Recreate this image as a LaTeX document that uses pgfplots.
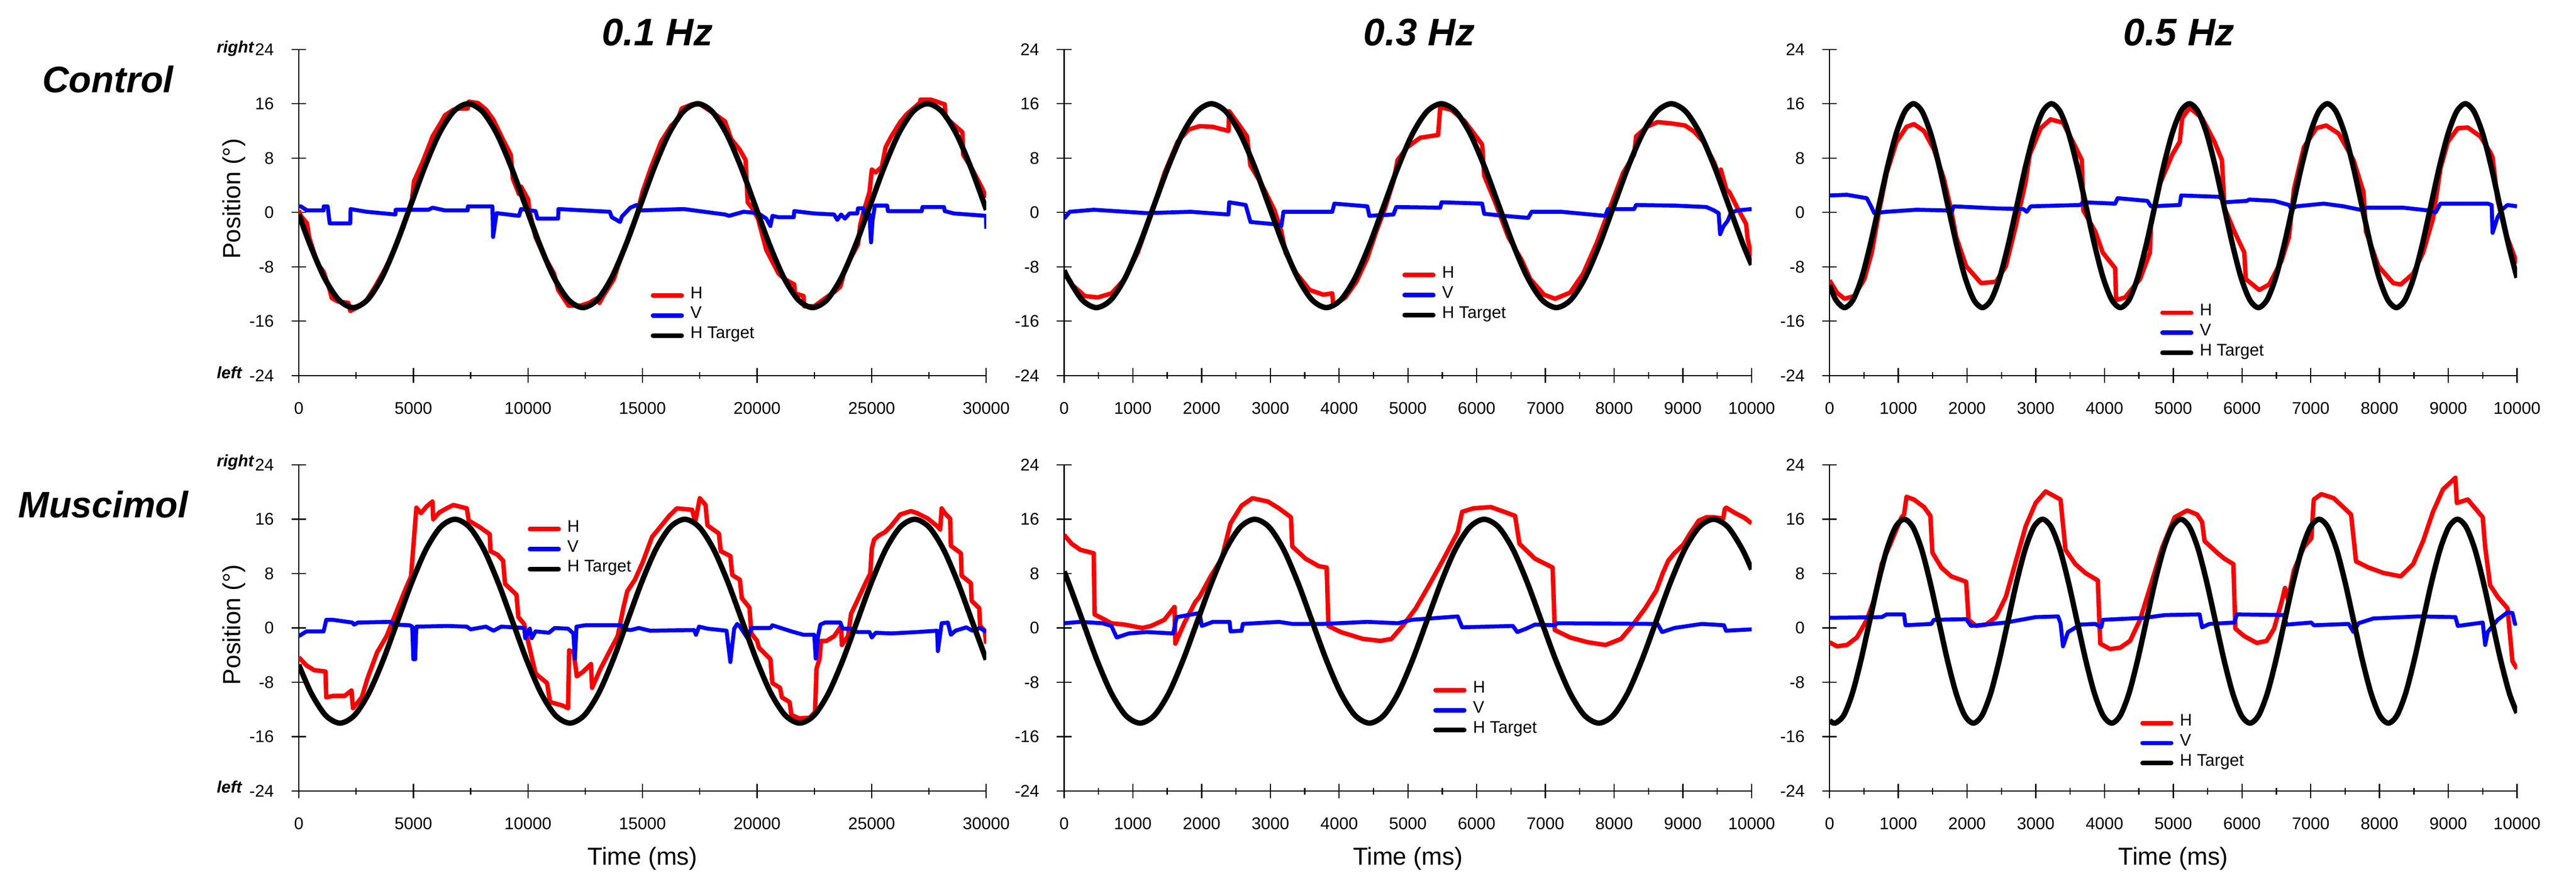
\documentclass[border=0pt]{standalone}
\usepackage{fontspec}
\setmainfont{Liberation Sans}
\usepackage{pgfplots}
\pgfplotsset{compat=1.18}

\pgfplotsset{
  panel/.style={
    scale only axis, width=223.65pt, height=106.1pt,
    xmin=0, ymin=-24, ymax=24, ytick={-24,-16,...,24},
    axis x line*=bottom, axis y line*=left,
    tick align=center, major tick length=4.8pt, minor tick length=2.2pt,
    minor x tick num=1,
    every tick/.style={black, line width=0.4pt},
    axis line style={line width=0.4pt},
    tick label style={font=\fontsize{5.5}{6}\selectfont, inner sep=0pt},
    xticklabel shift=6.0pt, yticklabel shift=5.5pt,
    /pgf/number format/assume math mode=true,
    /pgf/number format/1000 sep={},
    scaled x ticks=false,
    label style={font=\fontsize{8}{9}\selectfont},
    legend style={draw=none, fill=none, inner sep=0pt, outer sep=0pt,
      anchor=north west, font=\fontsize{5.5}{6}\selectfont, row sep=0pt, column sep=2.1pt,
      nodes={inner sep=0pt, text height=4.2pt, text depth=2.3pt}},
    legend cell align=left,
    legend image code/.code={\draw[##1, line width=1.5pt, line cap=round] (0pt,0pt) -- (9.3pt,0pt);},
  },
  hline/.style={red, line width=1.45pt, line join=round},
  vline/.style={blue, line width=1.3pt, line join=round},
  tline/.style={black, line width=1.75pt, smooth},
}

\begin{document}
\begin{tikzpicture}
\path[use as bounding box] (0,0) rectangle (838.05pt,-284.25pt);

% ---------- Control, 0.1 Hz
\begin{axis}[panel, at={(97.2pt,-16.05pt)}, anchor=north west,
  xmax=30000, xtick={0,5000,...,30000},
  ylabel={Position (°)}, ylabel style={at={(axis description cs:-0.0939,0.5416)}, anchor=center},
  legend style={at={(0.512,0.276)}}]
\addplot[hline] coordinates {(0,0.3) (90,-0.5) (360,-1.6) (450,-3.6) (810,-7.5) (1080,-8.7) (1350,-11.4) (1440,-12.6) (1710,-13.1) (2160,-13.3) (2250,-14.5) (2600,-13.9) (2960,-12.9) (3320,-11) (3770,-8.3) (4220,-5.1) (4580,-2) (4940,1.9) (5030,4.6) (5390,7.3) (5750,10.4) (5840,11.2) (6200,13.2) (6380,14.3) (6740,15.1) (7010,15.3) (7370,15.3) (7420,16.3) (7820,16.1) (8180,15.1) (8500,13.6) (8900,10.8) (9250,8.5) (9340,5.0) (9610,2.7) (9700,3.8) (10010,1.9) (10060,0.3) (10330,-3.6) (10690,-6.3) (11140,-9.0) (11320,-11.4) (11770,-13.7) (12310,-13.7) (12670,-13.3) (13030,-12.6) (13120,-13.3) (13300,-12.2) (13750,-9.8) (13930,-7.9) (14200,-5.5) (14470,-2.8) (14740,-0.5) (15000,3.0) (15360,6.5) (15810,10.4) (16260,12.8) (16530,13.6) (16710,15.3) (17160,15.9) (17520,15.9) (18060,14.7) (18600,13.4) (18870,10.8) (19230,9.3) (19500,7.7) (19590,1.5) (19770,0.7) (20040,-0.9) (20400,-5.5) (20940,-9.0) (21200,-9.8) (21622,-10.6) (21650,-11.9) (22025,-12.3) (22059,-13.8) (22494,-13.8) (22900,-12.8) (23365,-11.7) (23633,-10.9) (23834,-8.4) (24102,-6.6) (24404,-4.7) (24504,-1.8) (24638,0) (24906,3.0) (25007,6.3) (25174,5.9) (25442,6.7) (25610,9.6) (25844,11.1) (26247,13.3) (26515,14.4) (27118,16.2) (27130,16.6) (27587,16.6) (28190,15.9) (28224,14.0) (28525,13.1) (28961,11.8) (28994,8.5) (29397,6.3) (29799,3.7) (30000,2.2)};
\addplot[vline] coordinates {(0,0.9) (90,0.9) (360,0.3) (1080,0.3) (1090,0.9) (1260,0.9) (1350,-1.6) (2250,-1.6) (2260,0.5) (2960,0.1) (4220,-0.3) (4230,0.4) (5660,0.4) (5840,0.7) (6380,0.3) (7370,0.3) (7380,0.9) (8450,0.9) (8480,-3.6) (8630,-0.1) (9610,-0.5) (9700,0.5) (10330,0.2) (10420,-0.9) (11320,-0.9) (11330,0.5) (13570,0.1) (13660,-0.7) (14020,-1.4) (14100,-0.6) (14470,0.7) (14740,1.1) (14920,0.3) (16800,0.5) (18600,-0.3) (18780,-0.5) (19410,0.1) (20040,-0.1) (20400,-0.9) (20580,-2.0) (20670,-0.5) (20940,-0.7) (21600,-0.7) (21622,0.2) (22494,-0.15) (23365,-0.3) (23499,-1.1) (23667,-0.3) (23834,-0.9) (24035,-0.15) (24370,-0.15) (24404,0.6) (24638,0.6) (24672,-0.3) (24906,-0.3) (24973,-4.4) (25040,-1.1) (25141,1.0) (25677,1.0) (25710,0.2) (27185,0.2) (27218,0.8) (28157,0.8) (28190,0.2) (28592,-0.15) (29990,-0.5) (30000,-2.4)};
\addplot[tline] coordinates {(0,-0.26) (492,-4.74) (1118,-9.61) (1745,-12.86) (2372,-14) (2998,-12.86) (3625,-9.61) (4251,-4.74) (4878,1) (5505,6.74) (6131,11.61) (6758,14.86) (7384,16) (8011,14.86) (8638,11.61) (9264,6.74) (9891,1) (10517,-4.74) (11144,-9.61) (11771,-12.86) (12397,-14) (13024,-12.86) (13650,-9.61) (14277,-4.74) (14904,1) (15530,6.74) (16157,11.61) (16783,14.86) (17410,16) (18037,14.86) (18663,11.61) (19290,6.74) (19916,1) (20543,-4.74) (21170,-9.61) (21796,-12.86) (22423,-14) (23049,-12.86) (23676,-9.61) (24303,-4.74) (24929,1) (25556,6.74) (26182,11.61) (26809,14.86) (27436,16) (28062,14.86) (28689,11.61) (29315,6.74) (29942,1) (30000,0.45)};
\legend{H, V, H Target}
\end{axis}

% ---------- Control, 0.3 Hz
\begin{axis}[panel, at={(346.2pt,-16.05pt)}, anchor=north west,
  xmax=10000, xtick={0,1000,...,10000},
  legend style={at={(0.492,0.3385)}}]
\addplot[hline] coordinates {(0,-8.6) (110,-10.6) (300,-12.3) (490,-12.5) (690,-11.9) (880,-9.8) (1070,-5.9) (1260,-0.5) (1460,5.8) (1650,10.4) (1810,12.2) (1970,12.7) (2160,12.6) (2390,12.0) (2400,14.9) (2550,12.8) (2660,11.2) (2710,6.9) (2870,4.2) (3060,0.3) (3160,-2.8) (3220,-5.9) (3380,-9.0) (3570,-11.4) (3770,-12.1) (3900,-11.9) (3915,-13.7) (4090,-12.5) (4250,-10.2) (4410,-6.7) (4540,-2.8) (4670,0.7) (4790,4.6) (4850,7.7) (4990,9.6) (5180,11.0) (5440,11.4) (5470,15.5) (5630,15.1) (5820,13.5) (6080,10.0) (6110,5.4) (6270,1.5) (6460,-3.6) (6660,-7.1) (6780,-9.8) (6980,-12.1) (7140,-12.7) (7360,-11.8) (7550,-9.0) (7750,-4.4) (7940,0.7) (8130,5.8) (8290,8.5) (8320,11.2) (8476,12.6) (8631,13.3) (8831,13.1) (9031,12.8) (9164,11.9) (9298,10.4) (9453,7.4) (9520,5.6) (9553,6.3) (9631,3.4) (9676,3.0) (9787,0.8) (9920,-1.7) (9942,-3.9) (10000,-6.5)};
\addplot[vline] coordinates {(0,-0.9) (80,0.1) (430,0.4) (1200,-0.1) (1840,0.1) (2390,-0.3) (2400,1.5) (2640,1.1) (2710,-1.4) (3130,-1.8) (3160,-2.0) (3190,0.1) (3900,0.1) (3930,1.3) (4410,0.9) (4440,-0.5) (4790,-0.3) (4830,0.8) (5470,0.7) (5490,1.5) (6080,1.3) (6110,-0.2) (6400,-0.5) (6750,-0.8) (6800,0.1) (7230,0.1) (7870,-0.5) (7910,0.5) (8290,0.5) (8320,1.1) (8900,1.0) (9342,0.8) (9453,0.3) (9520,-0.1) (9542,-3.2) (9587,-2.1) (9653,-1.2) (9698,-0.1) (9787,0.3) (10000,0.5)};
\addplot[tline] coordinates {(0,-8.5) (52,-9.61) (261,-12.86) (470,-14) (679,-12.86) (888,-9.61) (1097,-4.74) (1306,1) (1515,6.74) (1724,11.61) (1933,14.86) (2142,16) (2351,14.86) (2560,11.61) (2769,6.74) (2978,1) (3187,-4.74) (3397,-9.61) (3606,-12.86) (3815,-14) (4024,-12.86) (4233,-9.61) (4442,-4.74) (4651,1) (4860,6.74) (5069,11.61) (5278,14.86) (5487,16) (5696,14.86) (5905,11.61) (6114,6.74) (6323,1) (6532,-4.74) (6742,-9.61) (6951,-12.86) (7160,-14) (7369,-12.86) (7578,-9.61) (7787,-4.74) (7996,1) (8205,6.74) (8414,11.61) (8623,14.86) (8832,16) (9041,14.86) (9250,11.61) (9459,6.74) (9668,1) (9877,-4.74) (10000,-7.7)};
\legend{H, V, H Target}
\end{axis}

% ---------- Control, 0.5 Hz
\begin{axis}[panel, at={(595.2pt,-16.05pt)}, anchor=north west,
  xmax=10000, xtick={0,1000,...,10000},
  legend style={at={(0.481,0.223)}}]
\addplot[hline] coordinates {(0,-10.0) (108,-11.8) (217,-12.7) (361,-12.3) (506,-9.8) (614,-5.9) (723,0.3) (831,5.8) (975,10.4) (1120,12.6) (1228,13.0) (1373,12.0) (1517,9.3) (1662,5.0) (1770,0.3) (1842,-3.6) (1987,-7.9) (2204,-10.4) (2420,-10.2) (2565,-7.9) (2709,-2.0) (2854,4.6) (2912,8.5) (3071,12.4) (3215,13.7) (3396,13.2) (3540,10.4) (3670,7.7) (3692,0.3) (3865,-2.8) (3974,-5.9) (4154,-8.2) (4169,-12.9) (4299,-12.5) (4516,-9.8) (4660,-5.9) (4675,-2.0) (4805,4.2) (4985,8.5) (5094,10.4) (5130,13.9) (5238,15.4) (5419,13.9) (5599,10.4) (5708,7.7) (5744,0.7) (5888,-2.8) (6033,-5.9) (6055,-9.8) (6250,-11.4) (6394,-10.6) (6575,-7.1) (6683,-3.6) (6755,3.4) (6900,9.6) (7081,12.4) (7225,12.8) (7406,11.6) (7622,7.7) (7767,3.0) (7803,-2.8) (7984,-7.9) (8200,-10.4) (8309,-10.6) (8489,-9.0) (8634,-5.9) (8778,-0.9) (8887,6.5) (8995,10.4) (9139,12.4) (9284,12.5) (9465,11.2) (9609,8.9) (9645,8.1) (9717,1.9) (9826,-2.8) (10000,-7.5)};
\addplot[vline] coordinates {(0,2.5) (253,2.6) (542,2.1) (614,0.7) (650,-0.1) (831,0.1) (1264,0.4) (1698,0.3) (1770,-0.1) (1806,0.9) (2420,0.6) (2818,0.5) (2868,0.1) (2926,0.9) (3649,1.1) (3685,1.5) (4154,1.3) (4190,2.1) (4624,1.7) (4675,0.9) (5094,1.1) (5115,2.5) (5672,2.3) (5744,1.5) (6069,1.7) (6105,1.9) (6466,1.7) (6683,1.1) (6719,0.5) (6792,0.9) (7189,1.3) (7478,0.9) (7767,0.3) (7803,0.7) (8345,0.7) (8706,0.3) (8815,0.0) (8887,1.3) (9573,1.3) (9631,1.1) (9645,-3.0) (9717,-0.7) (9790,0.5) (9862,1.1) (10000,0.9)};
\addplot[tline] coordinates {(0,-10.7) (92,-12.86) (217,-14) (342,-12.86) (468,-9.61) (593,-4.74) (719,1) (844,6.74) (970,11.61) (1095,14.86) (1221,16) (1346,14.86) (1471,11.61) (1597,6.74) (1722,1) (1848,-4.74) (1973,-9.61) (2099,-12.86) (2224,-14) (2350,-12.86) (2475,-9.61) (2600,-4.74) (2726,1) (2851,6.74) (2977,11.61) (3102,14.86) (3228,16) (3353,14.86) (3478,11.61) (3604,6.74) (3729,1) (3855,-4.74) (3980,-9.61) (4106,-12.86) (4231,-14) (4357,-12.86) (4482,-9.61) (4607,-4.74) (4733,1) (4858,6.74) (4984,11.61) (5109,14.86) (5235,16) (5360,14.86) (5486,11.61) (5611,6.74) (5736,1) (5862,-4.74) (5987,-9.61) (6113,-12.86) (6238,-14) (6364,-12.86) (6489,-9.61) (6614,-4.74) (6740,1) (6865,6.74) (6991,11.61) (7116,14.86) (7242,16) (7367,14.86) (7493,11.61) (7618,6.74) (7743,1) (7869,-4.74) (7994,-9.61) (8120,-12.86) (8245,-14) (8371,-12.86) (8496,-9.61) (8622,-4.74) (8747,1) (8872,6.74) (8998,11.61) (9123,14.86) (9249,16) (9374,14.86) (9500,11.61) (9625,6.74) (9750,1) (9876,-4.74) (10000,-9.6)};
\legend{H, V, H Target}
\end{axis}

% ---------- Muscimol, 0.1 Hz
\begin{axis}[panel, at={(97.2pt,-151.2pt)}, anchor=north west,
  xmax=30000, xtick={0,5000,...,30000},
  ylabel={Position (°)}, ylabel style={at={(axis description cs:-0.0939,0.51)}, anchor=center},
  xlabel={Time (ms)}, xlabel style={at={(axis description cs:0.5,-0.2068)}, anchor=center},
  legend style={at={(0.333,0.834)}}]
\addplot[hline] coordinates {(0,-4.3) (333,-5.5) (667,-6.2) (1167,-6.4) (1200,-10.2) (1500,-10.0) (2000,-10.0) (2300,-9.2) (2367,-11.8) (2750,-10.2) (3000,-7.4) (3417,-3.6) (3833,-1.2) (4250,2.3) (4667,5.8) (4900,7.6) (5000,12.0) (5133,17.7) (5333,16.9) (5583,17.9) (5833,18.6) (5867,16.0) (6133,17.0) (6500,17.7) (6750,18.1) (7333,17.6) (7417,15.8) (7917,14.8) (8333,13.8) (8367,11.3) (8667,10.8) (8917,9.9) (9000,6.5) (9500,4.9) (9583,1.6) (9833,0.6) (10000,-1.9) (10167,-4.3) (10333,-6.7) (10833,-8.1) (10967,-10.9) (11500,-11.4) (11750,-11.8) (11800,-3.3) (12000,-3.6) (12133,-7.1) (12417,-6.4) (12750,-5.3) (12800,-8.8) (13167,-6.0) (13583,-3.3) (13917,-1.2) (14167,3.0) (14333,5.4) (14667,7.1) (15000,9.6) (15417,13.4) (15833,15.1) (16167,16.5) (16500,17.6) (17167,17.4) (17300,15.6) (17500,19.1) (17750,18.1) (17833,15.1) (18333,13.9) (18417,11.3) (18833,10.6) (18917,7.8) (19250,7.1) (19333,4.4) (19667,3.0) (19750,-0.8) (20000,-1.9) (20083,-2.9) (20583,-4.6) (20667,-8.1) (21000,-8.8) (21083,-10.2) (21417,-10.9) (21500,-12.8) (21833,-13.3) (22292,-13.2) (22527,-12.4) (22594,-6.0) (22728,-4.5) (22795,-1.9) (23030,-1.9) (23365,-1.2) (23666,0.3) (23700,-2.5) (23968,-1.2) (24102,2.1) (24370,4.0) (24772,6.9) (24940,8.0) (25007,11.7) (25107,13.0) (25308,13.6) (25576,14.1) (25844,15.0) (26247,16.7) (26716,17.2) (26984,16.9) (27453,16.1) (27855,15.0) (27989,14.5) (28056,17.6) (28190,16.9) (28425,16.1) (28458,12.1) (28894,11.0) (28927,7.7) (29330,6.6) (29363,4.0) (29698,2.9) (29732,0.3) (29933,-0.4) (30000,-2.3)};
\addplot[vline] coordinates {(0,-1.2) (333,-0.5) (1083,-0.5) (1200,1.2) (1500,1.2) (2333,0.8) (2417,0.5) (2583,0.8) (4000,0.9) (4167,0.5) (4833,0.4) (4950,0.2) (5000,-4.6) (5080,-4.6) (5130,0.2) (6500,0.3) (7333,0.2) (7500,-0.2) (8167,0.2) (8500,-0.4) (8833,0.2) (9833,0.0) (9883,-1.5) (10083,-0.1) (10167,-1.5) (10333,-0.5) (10917,-0.7) (11167,0.0) (11750,-0.1) (11983,-0.8) (12050,-4.5) (12120,0.2) (12500,0.4) (14083,0.4) (14167,-0.2) (14500,-0.3) (14833,0.0) (15333,-0.4) (17250,-0.3) (17333,-1.0) (17467,0.2) (17833,-0.1) (18667,-0.4) (18833,-5.0) (19000,-0.1) (19133,0.6) (19250,0.2) (19583,-1.5) (19750,0.0) (20583,0.0) (20667,0.4) (21500,-0.5) (22025,-1.0) (22494,-1.0) (22560,-4.5) (22661,-1.2) (22762,0.5) (22963,0.8) (23633,0.8) (23733,-0.1) (24102,-0.1) (24370,-0.6) (24906,-0.6) (25007,-1.4) (25174,-0.7) (25844,-0.8) (26984,-0.6) (27855,-0.4) (27889,-3.4) (28056,0.7) (28324,0.8) (28458,-1.0) (28659,-0.4) (29129,0.1) (29397,-0.4) (29732,0.0) (30000,-0.6)};
\addplot[tline] coordinates {(0,-5.4) (546,-9.61) (1173,-12.86) (1800,-14) (2427,-12.86) (3054,-9.61) (3681,-4.74) (4308,1) (4934,6.74) (5561,11.61) (6188,14.86) (6815,16) (7442,14.86) (8069,11.61) (8696,6.74) (9323,1) (9949,-4.74) (10576,-9.61) (11203,-12.86) (11830,-14) (12457,-12.86) (13084,-9.61) (13711,-4.74) (14338,1) (14964,6.74) (15591,11.61) (16218,14.86) (16845,16) (17472,14.86) (18099,11.61) (18726,6.74) (19353,1) (19979,-4.74) (20606,-9.61) (21233,-12.86) (21860,-14) (22487,-12.86) (23114,-9.61) (23741,-4.74) (24368,1) (24994,6.74) (25621,11.61) (26248,14.86) (26875,16) (27502,14.86) (28129,11.61) (28756,6.74) (29383,1) (30000,-4.66)};
\legend{H, V, H Target}
\end{axis}

% ---------- Muscimol, 0.3 Hz
\begin{axis}[panel, at={(346.2pt,-151.2pt)}, anchor=north west,
  xmax=10000, xtick={0,1000,...,10000},
  xlabel={Time (ms)}, xlabel style={at={(axis description cs:0.5,-0.2068)}, anchor=center},
  legend style={at={(0.537,0.340)}}]
\addplot[hline] coordinates {(0,13.7) (109,12.4) (237,11.5) (430,11.0) (443,2.0) (558,1.4) (687,0.7) (879,0.5) (1136,0.0) (1264,0.3) (1457,1.2) (1605,3.1) (1617,-2.3) (1746,0.7) (1906,3.8) (1970,4.6) (2131,7.6) (2291,10.2) (2420,15.4) (2580,18.0) (2740,19.1) (2965,18.6) (3126,17.6) (3299,16.3) (3318,12.0) (3511,10.2) (3703,9.1) (3819,8.9) (3844,0.3) (4024,-0.6) (4345,-1.6) (4602,-1.9) (4762,-1.6) (4923,0.3) (5115,2.9) (5308,6.3) (5500,9.8) (5725,14.1) (5789,17.1) (5949,17.6) (6206,17.8) (6399,17.1) (6559,16.5) (6623,12.4) (6848,10.2) (7105,8.9) (7137,-0.3) (7361,-1.4) (7618,-2.1) (7875,-2.5) (8100,-1.6) (8260,0.3) (8452,2.9) (8613,5.5) (8709,8.1) (8787,9.9) (8876,11.0) (9009,12.3) (9098,13.8) (9231,15.8) (9342,16.3) (9453,16.3) (9587,16.1) (9609,17.5) (9631,17.7) (9764,16.9) (9898,16.2) (10000,15.4)};
\addplot[vline] coordinates {(0,0.7) (237,0.9) (558,0.7) (687,0.3) (764,-1.4) (943,-0.8) (1200,-0.6) (1585,-0.8) (1637,1.6) (1970,2.2) (2002,0.3) (2163,0.9) (2407,0.9) (2420,-0.5) (2580,-0.4) (2600,0.6) (3126,0.9) (3318,0.6) (3767,0.6) (4409,0.9) (4858,0.7) (5051,1.2) (5725,1.7) (5789,0.1) (6527,0.3) (6591,-0.6) (6720,-0.1) (6848,0.5) (7137,0.4) (7169,0.7) (8581,0.6) (8631,0.6) (8698,-0.6) (8876,0.0) (9009,0.2) (9276,0.6) (9598,0.4) (9627,-0.4) (10000,-0.2)};
\addplot[tline] coordinates {(0,8.3) (61,6.74) (270,1) (478,-4.74) (687,-9.61) (895,-12.86) (1104,-14) (1312,-12.86) (1521,-9.61) (1729,-4.74) (1938,1) (2147,6.74) (2355,11.61) (2564,14.86) (2772,16) (2981,14.86) (3189,11.61) (3398,6.74) (3606,1) (3815,-4.74) (4024,-9.61) (4232,-12.86) (4441,-14) (4649,-12.86) (4858,-9.61) (5066,-4.74) (5275,1) (5484,6.74) (5692,11.61) (5901,14.86) (6109,16) (6318,14.86) (6526,11.61) (6735,6.74) (6943,1) (7152,-4.74) (7361,-9.61) (7569,-12.86) (7778,-14) (7986,-12.86) (8195,-9.61) (8403,-4.74) (8612,1) (8821,6.74) (9029,11.61) (9238,14.86) (9446,16) (9655,14.86) (9863,11.61) (10000,8.6)};
\legend{H, V, H Target}
\end{axis}

% ---------- Muscimol, 0.5 Hz
\begin{axis}[panel, at={(595.2pt,-151.2pt)}, anchor=north west,
  xmax=10000, xtick={0,1000,...,10000},
  xlabel={Time (ms)}, xlabel style={at={(axis description cs:0.5,-0.2068)}, anchor=center},
  legend style={at={(0.452,0.239)}}]
\addplot[hline] coordinates {(0,-2.1) (108,-2.7) (253,-2.5) (397,-1.4) (542,1.2) (650,4.2) (759,9.4) (903,12.8) (1048,16.3) (1084,16.7) (1120,19.3) (1228,18.9) (1373,17.8) (1467,16.5) (1496,11.1) (1626,8.9) (1770,7.6) (1987,6.8) (2023,1.2) (2131,0.3) (2276,0.5) (2420,1.6) (2565,4.6) (2709,9.8) (2854,15.0) (2998,18.4) (3143,20.1) (3360,18.9) (3432,11.5) (3576,9.4) (3721,8.1) (3902,7.0) (3938,-2.3) (4082,-3.1) (4227,-2.9) (4371,-1.9) (4516,1.2) (4660,5.9) (4841,11.9) (5021,16.3) (5202,17.3) (5347,16.7) (5419,15.6) (5455,12.8) (5636,11.1) (5744,10.2) (5874,9.4) (5903,-0.1) (6033,-1.2) (6214,-2.2) (6358,-1.9) (6466,-0.1) (6575,3.8) (6625,5.9) (6669,4.2) (6755,8.5) (6900,11.9) (7008,13.2) (7044,18.9) (7153,19.7) (7334,19.1) (7586,16.7) (7659,9.8) (7839,8.9) (8056,8.1) (8309,7.6) (8489,9.4) (8634,12.8) (8778,17.1) (8923,20.4) (9104,22.1) (9125,18.4) (9284,18.9) (9501,16.3) (9537,11.9) (9609,6.3) (9718,4.6) (9862,2.9) (9934,-4.9) (10000,-6.0)};
\addplot[vline] coordinates {(0,1.5) (759,1.6) (831,2.0) (1084,2.0) (1105,0.4) (1481,0.6) (1517,1.2) (1987,1.3) (2059,0.3) (2565,0.8) (2998,1.6) (3324,1.7) (3360,0.7) (3396,-2.7) (3468,-0.6) (3649,0.5) (3865,0.6) (3952,0.1) (3974,1.2) (4588,1.5) (4877,1.9) (5383,2.0) (5419,0.1) (5527,0.6) (5888,0.8) (5925,2.0) (6611,1.9) (6647,0.5) (7008,0.8) (7044,0.4) (7550,0.6) (7622,-0.6) (7695,0.7) (7911,1.4) (8561,1.7) (9104,1.6) (9140,0.3) (9501,0.8) (9537,-2.5) (9573,-0.6) (9718,1.2) (9862,2.3) (9934,2.2) (9970,0.6) (10000,0.7)};
\addplot[tline] coordinates {(0,-13.6) (80,-14) (206,-12.86) (332,-9.61) (457,-4.74) (583,1) (709,6.74) (835,11.61) (960,14.86) (1086,16) (1212,14.86) (1338,11.61) (1463,6.74) (1589,1) (1715,-4.74) (1841,-9.61) (1966,-12.86) (2092,-14) (2218,-12.86) (2344,-9.61) (2469,-4.74) (2595,1) (2721,6.74) (2847,11.61) (2972,14.86) (3098,16) (3224,14.86) (3350,11.61) (3475,6.74) (3601,1) (3727,-4.74) (3853,-9.61) (3978,-12.86) (4104,-14) (4230,-12.86) (4356,-9.61) (4481,-4.74) (4607,1) (4733,6.74) (4859,11.61) (4984,14.86) (5110,16) (5236,14.86) (5362,11.61) (5487,6.74) (5613,1) (5739,-4.74) (5865,-9.61) (5990,-12.86) (6116,-14) (6242,-12.86) (6368,-9.61) (6493,-4.74) (6619,1) (6745,6.74) (6871,11.61) (6996,14.86) (7122,16) (7248,14.86) (7374,11.61) (7499,6.74) (7625,1) (7751,-4.74) (7877,-9.61) (8002,-12.86) (8128,-14) (8254,-12.86) (8380,-9.61) (8505,-4.74) (8631,1) (8757,6.74) (8883,11.61) (9008,14.86) (9134,16) (9260,14.86) (9386,11.61) (9511,6.74) (9637,1) (9763,-4.74) (9889,-9.61) (10000,-12.5)};
\legend{H, V, H Target}
\end{axis}

% ---------- headings and side labels
\tikzset{head/.style={font=\fontsize{12.5}{14}\selectfont\bfseries\itshape, inner sep=0pt},
         rowlab/.style={font=\fontsize{12}{14}\selectfont\bfseries\itshape, inner sep=0pt},
         side/.style={font=\fontsize{5.4}{6}\selectfont\bfseries\itshape, inner sep=0pt, anchor=west}}
\node[head] at (213.9pt,-10.5pt) {0.1 Hz};
\node[head] at (461.7pt,-10.5pt) {0.3 Hz};
\node[head] at (708.9pt,-10.5pt) {0.5 Hz};
\node[rowlab] at (35.1pt,-25.8pt) {Control};
\node[rowlab] at (33.6pt,-164.1pt) {Muscimol};
\node[side] at (70.35pt,-15.75pt) {right};
\node[side] at (70.35pt,-121.2pt) {left};
\node[side] at (70.35pt,-150.45pt) {right};
\node[side] at (70.35pt,-255.9pt) {left};
\end{tikzpicture}
\end{document}
